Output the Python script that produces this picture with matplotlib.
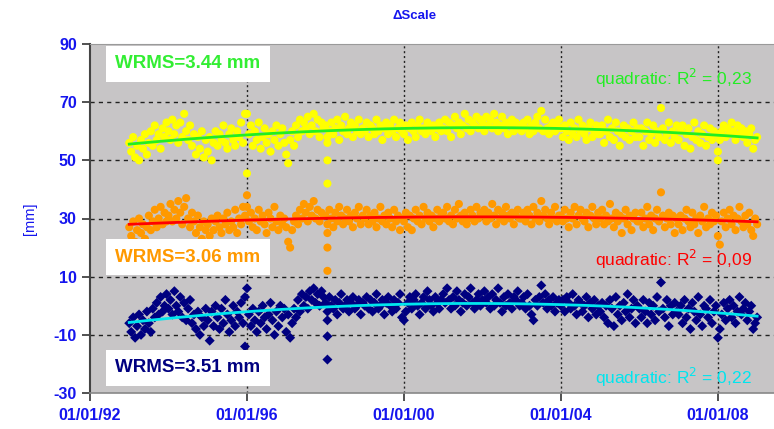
import numpy as np
import matplotlib
matplotlib.use("Agg")
import matplotlib.pyplot as plt

plt.rcParams['font.family'] = ['Liberation Sans', 'DejaVu Sans']
plt.rcParams['axes.unicode_minus'] = False

# regular sampling grid of the solutions (decimal years)
t_start, t_end, t_step = 1993.0, 2009.0, 0.05

# yellow series (top) values, 20 per year from 1993.0, plus 2009.0
yellow = [
    56, 53, 58, 51, 55, 50, 57, 54, 59, 52, 56, 60, 55, 62, 57, 59, 54, 61, 58, 63,
    60, 57, 64, 59, 62, 56, 63, 58, 66, 60, 57, 62, 55, 59, 52, 58, 54, 60, 51, 57,
    53, 58, 50, 56, 60, 55, 59, 57, 62, 56, 54, 59, 61, 57, 55, 60, 58, 63, 56, 66,
    66, 59, 62, 55, 60, 57, 63, 54, 58, 61, 56, 59, 53, 60, 57, 62, 55, 59, 61, 56,
    52, 49, 57, 60, 55, 62, 58, 64, 60, 63, 61, 65, 59, 62, 66, 60, 64, 58, 63, 61,
    62, 58, 60, 63, 59, 61, 64, 57, 62, 60, 65, 59, 61, 63, 58, 62, 60, 64, 59, 61,
    60, 63, 58, 62, 61, 59, 64, 60, 62, 57, 61, 63, 59, 62, 60, 64, 58, 61, 63, 60,
    59, 62, 57, 61, 63, 60, 58, 62, 64, 60, 61, 59, 63, 61, 60, 62, 58, 61, 63, 60,
    61, 64, 60, 63, 58, 62, 65, 61, 63, 59, 62, 66, 61, 64, 60, 63, 62, 65, 61, 64,
    63, 60, 65, 62, 64, 61, 66, 63, 60, 62, 65, 61, 63, 59, 62, 64, 60, 63, 61, 62,
    60, 63, 61, 64, 59, 62, 60, 63, 65, 61, 67, 60, 64, 61, 59, 62, 63, 60, 62, 64,
    61, 58, 62, 60, 57, 63, 59, 61, 58, 64, 60, 62, 59, 57, 61, 63, 58, 60, 62, 59,
    59, 62, 56, 60, 64, 58, 61, 57, 63, 60, 55, 59, 62, 58, 61, 57, 60, 63, 58, 61,
    58, 61, 55, 60, 63, 57, 59, 62, 56, 60, 58, 68, 61, 57, 59, 63, 56, 60, 58, 62,
    57, 60, 62, 55, 59, 61, 54, 58, 63, 57, 60, 56, 59, 62, 55, 58, 61, 57, 60, 59,
    53, 57, 60, 62, 58, 61, 59, 63, 60, 57, 62, 59, 61, 58, 60, 56, 59, 61, 54, 57,
    58,
]
yellow_out_t = [1996.0, 1998.05, 1998.05, 1998.05, 2008.0]
yellow_out_v = [45.5, 56, 50, 42, 50]

# orange series (middle)
orange = [
    27, 24, 29, 22, 26, 30, 25, 28, 23, 27, 31, 26, 29, 33, 27, 30, 34, 28, 32, 29,
    31, 35, 29, 33, 30, 36, 32, 28, 34, 37, 30, 27, 32, 29, 25, 31, 27, 23, 29, 26,
    28, 24, 30, 26, 29, 31, 27, 25, 30, 28, 32, 26, 29, 27, 33, 25, 30, 28, 34, 31,
    34, 29, 32, 27, 30, 26, 33, 29, 31, 28, 25, 32, 30, 27, 34, 29, 26, 31, 28, 30,
    27, 22, 20, 26, 29, 31, 28, 33, 30, 35, 32, 29, 34, 31, 36, 30, 33, 29, 32, 31,
    31, 28, 33, 30, 27, 32, 29, 34, 31, 28, 30, 33, 29, 31, 27, 32, 30, 34, 28, 31,
    30, 33, 28, 31, 29, 32, 27, 30, 34, 29, 31, 28, 32, 30, 27, 33, 29, 31, 26, 30,
    29, 32, 27, 31, 26, 30, 33, 29, 31, 28, 34, 30, 32, 29, 31, 27, 30, 33, 29, 31,
    32, 30, 34, 29, 31, 28, 33, 30, 35, 31, 29, 32, 28, 30, 33, 31, 29, 34, 30, 32,
    31, 33, 29, 32, 30, 35, 31, 28, 33, 30, 32, 29, 34, 31, 30, 32, 28, 31, 33, 30,
    30, 32, 29, 33, 31, 28, 34, 30, 32, 29, 36, 31, 33, 30, 28, 32, 30, 34, 29, 31,
    31, 29, 33, 30, 27, 32, 30, 34, 28, 31, 33, 30, 29, 32, 27, 31, 34, 30, 28, 32,
    30, 33, 28, 31, 29, 35, 30, 27, 32, 29, 31, 25, 30, 33, 28, 31, 26, 30, 32, 29,
    29, 32, 27, 30, 34, 28, 31, 26, 30, 33, 29, 39, 31, 27, 30, 32, 28, 31, 25, 30,
    28, 31, 26, 30, 33, 29, 27, 32, 28, 30, 25, 31, 29, 34, 27, 30, 28, 32, 29, 31,
    24, 21, 29, 32, 27, 30, 33, 28, 31, 26, 30, 34, 29, 27, 31, 28, 32, 26, 24, 30,
    28,
]
orange_out_t = [1996.0, 1998.05, 1998.05, 1998.05]
orange_out_v = [38, 25, 20, 12]

# navy series (bottom)
navy = [
    -6, -9, -4, -11, -7, -3, -10, -5, -8, -2, -6, -9, -1, -4, 1, -3, 3, -2, 0, 4,
    -1, 2, -3, 5, 0, -2, 3, -4, 1, -5, -1, 2, -6, -3, -8, -2, -10, -4, -7, -1,
    -5, -12, -2, -7, 0, -4, -8, -1, -6, 2, -3, -9, -5, 0, -7, -2, -4, 1, -6, 3,
    6, -3, -7, -1, -5, -9, -2, -6, 0, -4, -8, -3, 1, -5, -10, -2, -7, 0, -4, -1,
    -9, -3, -11, -6, -1, -4, 2, -2, 4, 0, 3, -1, 5, 2, 6, 1, 4, 0, 5, 3,
    1, -2, 3, 0, -1, 2, -3, 1, 4, -1, 0, 2, -2, 1, 3, -1, 0, 2, -3, 1,
    0, 3, -1, 2, -2, 1, 4, -1, 0, 2, -3, 1, 3, 0, -2, 2, -1, 1, 4, -4,
    -5, -2, 1, 3, -1, 2, 4, 0, -3, 1, 3, -1, 5, 2, 0, -2, 3, 1, -1, 2,
    4, 1, 6, 2, -1, 3, 0, 5, 2, -2, 1, 4, 0, 3, 6, 1, -1, 2, 4, 0,
    2, 5, 1, 3, -1, 4, 0, 2, 6, 1, -2, 3, 0, 4, 1, -1, 3, 2, 5, 0,
    1, 3, -1, 4, 0, -3, -5, 2, 0, 3, 7, 1, 4, -1, 2, 0, 3, -2, 1, 2,
    0, 2, -2, 3, 1, -1, 4, 0, -3, 2, 1, -2, 0, 3, -4, 1, -1, 2, -3, 0,
    -2, 1, -4, 0, -6, 2, -1, -7, 3, -3, 0, -5, 1, -2, 4, -4, -1, 2, -6, 0,
    -1, -4, 2, -2, -6, 1, -3, 0, -5, 3, -2, 8, -1, -4, 2, -7, 0, -3, 1, -2,
    -3, 0, -6, 2, -4, -1, -8, 1, -2, -5, 3, -3, -7, 0, -1, -4, 2, -6, -2, 0,
    -11, -8, -3, 1, -5, -1, 2, -4, 0, -6, -2, 3, -3, -1, 1, -5, -2, 0, -8, -6,
    -4,
]
navy_out_t = [1995.95, 1998.05, 1998.05, 1998.05]
navy_out_v = [-14, -5, -10.5, -18.5]

xtick_pos = [1992, 1996, 2000, 2004, 2008]
xtick_labels = ['01/01/92', '01/01/96', '01/01/00', '01/01/04', '01/01/08']
ytick_pos = [-30, -10, 10, 30, 50, 70, 90]

wrms_labels = ['WRMS=3.44 mm', 'WRMS=3.06 mm', 'WRMS=3.51 mm']
r2_labels = ['quadratic: R$^2$ = 0,23', 'quadratic: R$^2$ = 0,09', 'quadratic: R$^2$ = 0,22']

t = np.arange(t_start, t_end + t_step / 2, t_step)

fig = plt.figure(figsize=(7.74, 4.29), dpi=100)
ax = fig.add_axes([90 / 774, 1 - 393 / 429, 684 / 774, 349 / 429])
ax.set_facecolor('#c7c5c6')

blue = '#1515ee'
series = [
    (yellow, yellow_out_t, yellow_out_v, '#ffff00', 'o', '#22ee22'),
    (orange, orange_out_t, orange_out_v, '#ff9900', 'o', '#ff0000'),
    (navy, navy_out_t, navy_out_v, '#000080', 'D', '#00e5ee'),
]

for vals, ot, ov, col, mk, fitcol in series:
    vals = np.asarray(vals, dtype=float)
    tt = np.concatenate([t, ot])
    vv = np.concatenate([vals, ov])
    ax.scatter(tt, vv, s=34 if mk == 'o' else 26, marker=mk, color=col,
               edgecolors='none', zorder=3)
    coef = np.polyfit(tt, vv, 2)
    tf = np.linspace(t.min(), t.max(), 200)
    ax.plot(tf, np.polyval(coef, tf), color=fitcol, lw=2, zorder=4)

ax.set_xlim(1992, 2009.43)
ax.set_ylim(-30, 90)
ax.set_xticks(xtick_pos)
ax.set_xticklabels(xtick_labels)
ax.set_yticks(ytick_pos)

for y in [-10, 10, 30, 50, 70]:
    ax.axhline(y, color='#222222', lw=1, ls=(0, (3, 3)), zorder=1)
for x in xtick_pos[1:]:
    ax.axvline(x, color='#222222', lw=1, ls=(0, (1.5, 2)), zorder=1)

ax.spines['right'].set_visible(False)
ax.spines['top'].set_color('#9a9a9a')
ax.spines['left'].set_color('#444444')
ax.spines['left'].set_linewidth(1.5)
ax.spines['bottom'].set_color('#888888')
ax.spines['bottom'].set_linewidth(1.2)

ax.tick_params(axis='both', colors='#333333', labelcolor=blue, labelsize=11.5,
               length=6, width=1.2, direction='out')
for lab in ax.get_xticklabels() + ax.get_yticklabels():
    lab.set_fontweight('bold')
ax.tick_params(axis='x', pad=5)

ax.set_ylabel('[mm]', color=blue, fontsize=10.5, labelpad=12)

fig.text(415 / 774, 1 - 16 / 429, 'ΔScale', color=blue, fontsize=9.5,
         fontweight='bold', ha='center', va='center')

wrms_y = [64, 257, 368]
wrms_cols = ['#33ee33', '#ff9900', '#000080']
for lab, yy, c in zip(wrms_labels, wrms_y, wrms_cols):
    ax.text(188 / 774, 1 - yy / 429, lab, transform=fig.transFigure, color=c,
            fontsize=13.5, fontweight='bold', ha='center', va='center',
            bbox=dict(boxstyle='square,pad=0.5', facecolor='white', edgecolor='none'),
            zorder=5)

r2_y = [78, 259, 377]
r2_cols = ['#22ee22', '#ff0000', '#00e5ee']
for lab, yy, c in zip(r2_labels, r2_y, r2_cols):
    fig.text(752 / 774, 1 - yy / 429, lab, color=c, fontsize=12.5,
             ha='right', va='center', zorder=6)

fig.savefig('out.png', dpi=100)
